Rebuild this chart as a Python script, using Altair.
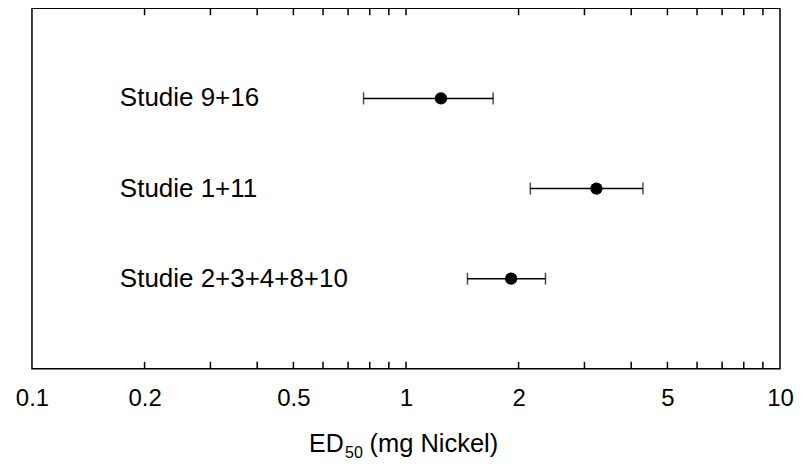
import altair as alt
import pandas as pd

# ---- data ----
studies = ["Studie 9+16", "Studie 1+11", "Studie 2+3+4+8+10"]
ed50 = [1.24, 3.23, 1.91]
lower = [0.77, 2.15, 1.46]
upper = [1.71, 4.30, 2.36]
tick_labels = [0.1, 0.2, 0.5, 1, 2, 5, 10]
minor_ticks = [0.2, 0.3, 0.4, 0.5, 0.6, 0.7, 0.8, 0.9, 1, 2, 3, 4, 5, 6, 7, 8, 9]
title_main = "ED"
title_sub = "50"
title_rest = "(mg Nickel)"

FONT = "Liberation Sans"
W, H = 749, 361
TICK_LEN = 7

df = pd.DataFrame({"study": studies, "ed50": ed50, "lo": lower, "hi": upper})
ticks_df = pd.DataFrame({"t": minor_ticks})

xscale = alt.Scale(type="log", domain=[0.1, 10], nice=False)
xaxis = alt.Axis(values=tick_labels, format="~g", ticks=False, domain=False, grid=False,
                 labelPadding=18, labelFlush=False, labelOverlap=False, labelBound=False,
                 labelFontSize=24, labelFont=FONT, labelColor="black", title=None)
yenc = alt.Y("study:N", sort=studies, scale=alt.Scale(type="point", padding=1), axis=None)

base = alt.Chart(df)

bars = base.mark_rule(color="black", strokeWidth=1.5).encode(
    x=alt.X("lo:Q", scale=xscale, axis=xaxis), x2="hi:Q", y=yenc)
cap_lo = base.mark_tick(color="black", size=12, thickness=1.5, orient="vertical").encode(
    x=alt.X("lo:Q", scale=xscale, axis=xaxis), y=yenc)
cap_hi = base.mark_tick(color="black", size=12, thickness=1.5, orient="vertical").encode(
    x=alt.X("hi:Q", scale=xscale, axis=xaxis), y=yenc)
points = base.mark_point(filled=True, color="black", size=150, opacity=1).encode(
    x=alt.X("ed50:Q", scale=xscale, axis=xaxis), y=yenc)
labels = base.mark_text(align="left", baseline="middle", fontSize=26, font=FONT, color="black").encode(
    x=alt.value(88), y=yenc, text="study:N")

tick_bot = alt.Chart(ticks_df).mark_rule(color="black", strokeWidth=1.5).encode(
    x=alt.X("t:Q", scale=xscale, axis=xaxis), y=alt.value(H), y2=alt.value(H - TICK_LEN))
tick_top = alt.Chart(ticks_df).mark_rule(color="black", strokeWidth=1.5).encode(
    x=alt.X("t:Q", scale=xscale, axis=xaxis), y=alt.value(0), y2=alt.value(TICK_LEN))

t1 = alt.Chart(pd.DataFrame({"s": [title_main]})).mark_text(
    align="left", baseline="alphabetic", fontSize=25, font=FONT, color="black").encode(
    x=alt.value(277.5), y=alt.value(444), text="s:N")
t2 = alt.Chart(pd.DataFrame({"s": [title_sub]})).mark_text(
    align="left", baseline="alphabetic", fontSize=16, font=FONT, color="black").encode(
    x=alt.value(313.5), y=alt.value(450), text="s:N")
t3 = alt.Chart(pd.DataFrame({"s": [title_rest]})).mark_text(
    align="left", baseline="alphabetic", fontSize=25.5, font=FONT, color="black").encode(
    x=alt.value(338), y=alt.value(444), text="s:N")

chart = alt.layer(tick_bot, tick_top, bars, cap_lo, cap_hi, points, labels, t1, t2, t3).properties(
    width=W, height=H,
    autosize=alt.AutoSizeParams(type="none"),
    padding={"left": 24, "top": 0, "right": 16, "bottom": 93},
).configure(background="white", view={"stroke": "black", "strokeWidth": 1.5})

chart.save("out.html", embed_options={"renderer": "svg", "actions": False})
